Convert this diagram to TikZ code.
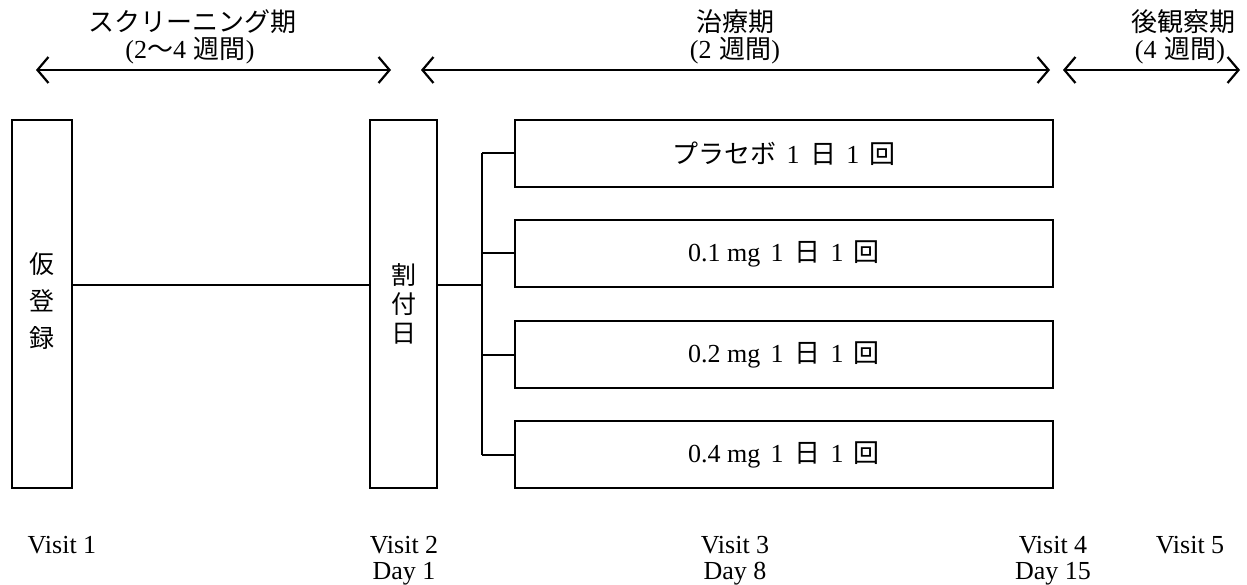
\documentclass[tikz,border=0pt]{standalone}
\usepackage{fontspec}
\setmainfont{Liberation Serif}
\newfontfamily\cjkfont{Noto Sans CJK JP}
\newcommand{\jp}[1]{{\cjkfont #1}}
\newcommand{\gap}{\hspace{0.4em}}
\newcommand{\hgap}{\hspace{0.3em}}
\usetikzlibrary{arrows.meta}
\begin{document}
\begin{tikzpicture}[x=1pt,y=-1pt,
  box/.style={draw, line width=2pt, inner sep=0pt, anchor=north west},
  lbl/.style={font=\fontsize{26}{30}\selectfont, inner sep=0pt},
  vtext/.style={inner sep=0pt, align=center},
  link/.style={line width=2pt},
  period/.style={line width=2.2pt, {Straight Barb[length=11pt,width=26pt]}-{Straight Barb[length=11pt,width=26pt]}}]
\useasboundingbox (0,0) rectangle (1247,585);

% headers
\node[lbl] (h1) at (192,22) {\jp{スクリーニング期}};
\node[lbl] (h1b) at (190,51) {(2\jp{〜}4\hgap\jp{週間})};
\node[lbl] (h2) at (735,22) {\jp{治療期}};
\node[lbl] (h2b) at (735,51) {(2\hgap\jp{週間})};
\node[lbl] (h3) at (1183,22) {\jp{後観察期}};
\node[lbl] (h3b) at (1180,51) {(4\hgap\jp{週間})};

% period arrows
\coordinate (a1l) at (36,70);  \coordinate (a1r) at (391,70);
\coordinate (a2l) at (421,70); \coordinate (a2r) at (1050,70);
\coordinate (a3l) at (1063,70); \coordinate (a3r) at (1240,70);
\draw[period] (a1l) -- (a1r);
\draw[period] (a2l) -- (a2r);
\draw[period] (a3l) -- (a3r);

% boxes
\node[box, minimum width=60pt, minimum height=368pt] (reg) at (11,119) {};
\node[vtext, font=\cjkfont\fontsize{25}{37}\selectfont] (regt) at ([yshift=3pt]reg.center) {仮\\登\\録};
\node[box, minimum width=67pt, minimum height=368pt] (rand) at (369,119) {};
\node[vtext, font=\cjkfont\fontsize{25}{29}\selectfont] (randt) at (rand.center) {割\\付\\日};

\node[box, lbl, minimum width=538pt, minimum height=67pt] (b1) at (514,119) {\jp{プラセボ}\gap 1\gap\jp{日}\gap 1\gap\jp{回}};
\node[box, lbl, minimum width=538pt, minimum height=67pt] (b2) at (514,219) {0.1 mg\gap 1\gap\jp{日}\gap 1\gap\jp{回}};
\node[box, lbl, minimum width=538pt, minimum height=67pt] (b3) at (514,320) {0.2 mg\gap 1\gap\jp{日}\gap 1\gap\jp{回}};
\node[box, lbl, minimum width=538pt, minimum height=67pt] (b4) at (514,420) {0.4 mg\gap 1\gap\jp{日}\gap 1\gap\jp{回}};

% connectors
\coordinate (mainy) at (0,285);
\coordinate (br) at (482,285);
\draw[link] (reg.east |- mainy) -- (rand.west |- mainy);
\draw[link] (rand.east |- mainy) -- (br);
\draw[link] (br |- b1.west) -- (br |- b4.west);
\draw[link] (br |- b1.west) -- (b1.west);
\draw[link] (br |- b2.west) -- (b2.west);
\draw[link] (br |- b3.west) -- (b3.west);
\draw[link] (br |- b4.west) -- (b4.west);

% visit labels
\node[lbl, anchor=base] (v1) at (62,553) {Visit 1};
\node[lbl, anchor=base] (v2) at (404,553) {Visit 2};
\node[lbl, anchor=base] (v3) at (735,553) {Visit 3};
\node[lbl, anchor=base] (v4) at (1053,553) {Visit 4};
\node[lbl, anchor=base] (v5) at (1190,553) {Visit 5};
\node[lbl, anchor=base] (d1) at (404,579) {Day 1};
\node[lbl, anchor=base] (d8) at (735,579) {Day 8};
\node[lbl, anchor=base] (d15) at (1053,579) {Day 15};
\end{tikzpicture}
\end{document}
